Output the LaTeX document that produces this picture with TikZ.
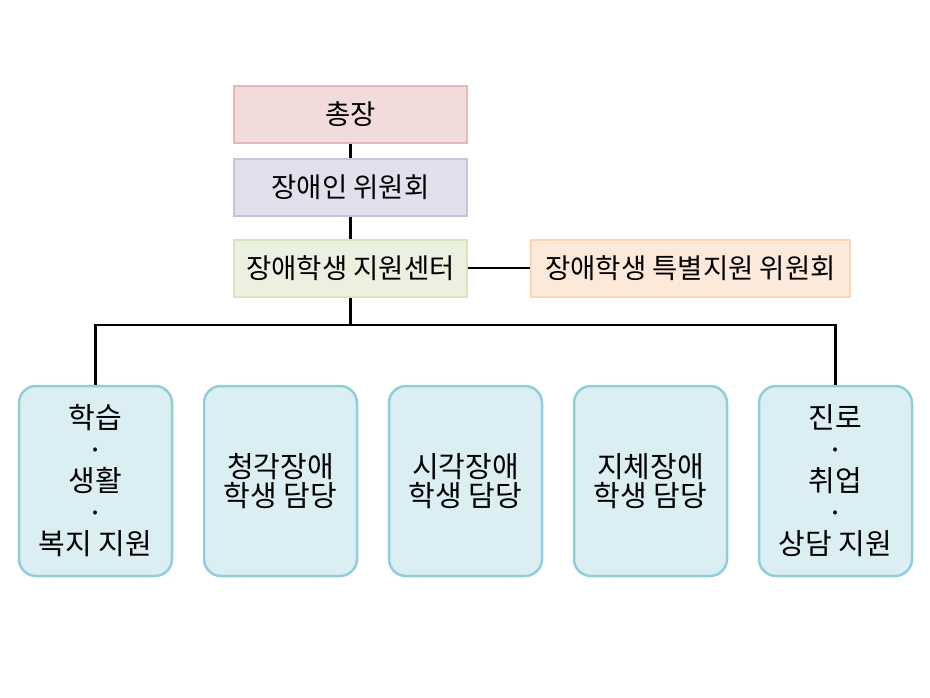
\documentclass[tikz,border=0pt]{standalone}
\usepackage{fontspec}
\setmainfont{Noto Sans CJK KR}
\begin{document}
\begin{tikzpicture}[x=1pt,y=-1pt,
  topbox/.style={draw, line width=2pt, minimum width=233pt, minimum height=57pt, inner sep=0pt, font=\fontsize{27.5}{30}\selectfont},
  botbox/.style={draw=botdraw, fill=botfill, line width=2.5pt, rounded corners=17pt, minimum width=153pt, minimum height=190pt, inner sep=0pt, align=center, font=\fontsize{29}{31.5}\selectfont},
  conn/.style={line width=2.6pt, black}]
\definecolor{c1fill}{HTML}{F2DCDB}\definecolor{c1draw}{HTML}{E6B9B8}
\definecolor{c2fill}{HTML}{E4DFEC}\definecolor{c2draw}{HTML}{CCC0DA}
\definecolor{c3fill}{HTML}{EBF1DE}\definecolor{c3draw}{HTML}{D7E4BD}
\definecolor{c4fill}{HTML}{FDE9D9}\definecolor{c4draw}{HTML}{FCD5B4}
\definecolor{botfill}{HTML}{DAEEF3}\definecolor{botdraw}{HTML}{92CDDC}
\useasboundingbox (0,0) rectangle (930,697);
\node[topbox, draw=c1draw, fill=c1fill] (pres) at (350.5,114) {총장};
\node[topbox, draw=c2draw, fill=c2fill] (comm) at (350.5,187) {장애인 위원회};
\node[topbox, draw=c3draw, fill=c3fill] (center) at (350.5,268) {장애학생 지원센터};
\node[topbox, draw=c4draw, fill=c4fill, minimum width=319pt] (special) at (690.5,268) {장애학생 특별지원 위원회};
\node[botbox] (b1) at (95.5,481) {학습\\·\\생활\\·\\복지 지원};
\node[botbox] (b2) at (280.5,481) {청각장애\\[-2pt]학생 담당};
\node[botbox] (b3) at (465.5,481) {시각장애\\[-2pt]학생 담당};
\node[botbox] (b4) at (650.5,481) {지체장애\\[-2pt]학생 담당};
\node[botbox] (b5) at (835.5,481) {진로\\·\\취업\\·\\상담 지원};
\coordinate (bus) at (350.5,325);
\draw[conn] (pres) -- (comm);
\draw[conn] (comm) -- (center);
\draw[conn] (center) -- (special);
\draw[conn] (center.south) -- (bus);
\draw[conn] (b1.north) |- (bus) -| (b5.north);
\end{tikzpicture}
\end{document}
